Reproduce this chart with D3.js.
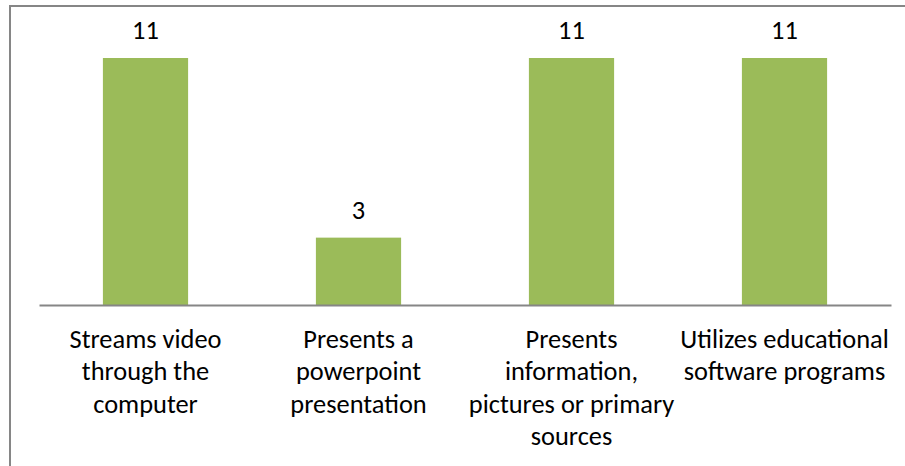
<!DOCTYPE html>
<html><head><meta charset="utf-8">
<script src="https://cdn.jsdelivr.net/npm/d3@7"></script>
<style>html,body{margin:0;padding:0;background:#fff;}svg{display:block;}</style>
</head><body>
<svg id="chart" width="905" height="466"></svg>
<script>
const categories = [
  "Streams video\nthrough the\ncomputer",
  "Presents a\npowerpoint\npresentation",
  "Presents\ninformation,\npictures or primary\nsources",
  "Utilizes educational\nsoftware programs"
];
const values = [11, 3, 11, 11];

const W = 905, H = 466;
const svg = d3.select("#chart");
const fontFamily = "Carlito, Calibri, 'Open Sans', 'Noto Sans', sans-serif";

// fit font size so "Streams video" is ~152px wide
const probe = svg.append("text").attr("font-family", fontFamily).attr("font-size", 100).text("Streams video");
const w100 = probe.node().getComputedTextLength();
probe.remove();
const fs = 100 * 152 / w100;

svg.append("rect").attr("x", 10).attr("y", 6).attr("width", W).attr("height", H)
  .attr("fill", "#fff").attr("stroke", "#868686").attr("stroke-width", 2);

const x = d3.scaleBand().domain(d3.range(categories.length)).range([39, 891]).paddingInner(0.6).paddingOuter(0.3);
const y = d3.scaleLinear().domain([0, 11]).range([305, 58]);

svg.selectAll("rect.bar").data(values).join("rect").attr("class", "bar")
  .attr("x", (d, i) => x(i)).attr("width", x.bandwidth())
  .attr("y", d => y(d)).attr("height", d => y(0) - y(d))
  .attr("fill", "#9BBB59");

const axis = d3.axisBottom(x).tickSize(0).tickFormat("");
const ag = svg.append("g").attr("transform", "translate(0,305)").call(axis);
ag.select(".domain").attr("stroke", "#868686").attr("stroke-width", 2);

svg.selectAll("text.val").data(values).join("text").attr("class", "val")
  .attr("x", (d, i) => x(i) + x.bandwidth() / 2).attr("y", d => y(d) - 19)
  .attr("text-anchor", "middle").attr("font-family", fontFamily).attr("font-size", fs)
  .attr("fill", "#000").text(d => d);

const lab = svg.selectAll("text.cat").data(categories).join("text").attr("class", "cat")
  .attr("text-anchor", "middle").attr("font-family", fontFamily).attr("font-size", fs).attr("fill", "#000");
lab.each(function(d, i) {
  const t = d3.select(this);
  d.split("\n").forEach((line, j) => {
    t.append("tspan").attr("x", x(i) + x.bandwidth() / 2).attr("y", 348 + j * 32.3).text(line);
  });
});
</script>
</body></html>
